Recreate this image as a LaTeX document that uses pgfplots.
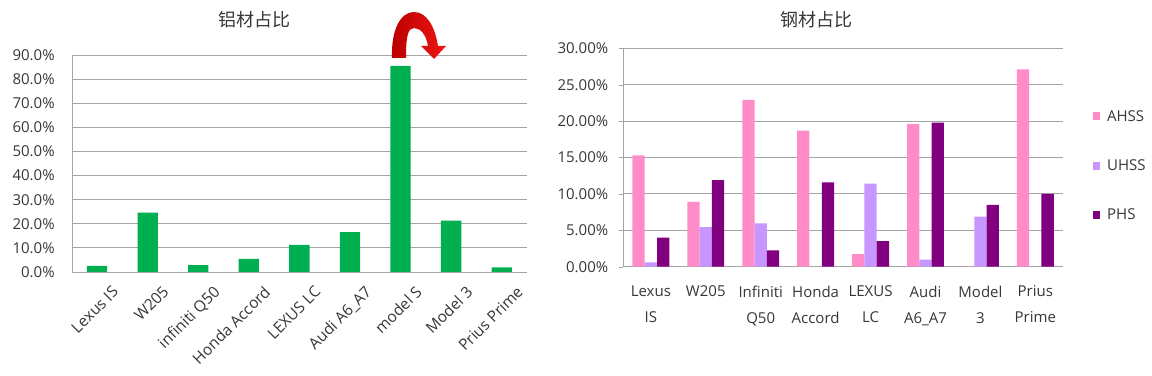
\documentclass[border=0pt]{standalone}
\usepackage{fontspec}
\setmainfont{Open Sans}
\newfontfamily\cjk{Noto Sans CJK SC}
\usepackage{pgfplots}
\pgfplotsset{compat=1.18}
\definecolor{barGreen}{RGB}{0,176,80}
\definecolor{ahss}{RGB}{255,140,200}
\definecolor{uhss}{RGB}{200,150,255}
\definecolor{phs}{RGB}{128,0,128}
\definecolor{gridc}{RGB}{165,165,165}
\definecolor{txt}{RGB}{55,55,55}
\begin{document}
\begin{tikzpicture}
\useasboundingbox (0,0) rectangle (1152bp,376bp);
\fill[white] (0,0) rectangle (1152bp,376bp);
% titles
\node[font=\cjk\fontsize{18bp}{20bp}\selectfont, text=txt] at (254bp,356.5bp) {铝材占比};
\node[font=\cjk\fontsize{18bp}{20bp}\selectfont, text=txt] at (816bp,356bp) {钢材占比};

\begin{axis}[
  at={(71.8bp,104bp)}, anchor=south west, scale only axis,
  width=455.2bp, height=217bp,
  xmin=-0.5, xmax=8.5, ymin=0, ymax=90,
  ybar, bar width=20.3bp,
  axis lines=left, axis line style={draw=gridc, -},
  ymajorgrids, grid style={gridc, line width=0.8bp},
  major tick length=0pt,
  xtick={0,...,8},
  xticklabels={Lexus IS, W205, infiniti Q50, Honda Accord, LEXUS LC, Audi A6\_A7, model S, Model 3, Prius Prime},
  ytick={0,10,...,90},
  yticklabel={\pgfmathprintnumber[fixed,fixed zerofill,precision=1]{\tick}\%},
  /pgf/number format/assume math mode=true,
  tick label style={font=\fontsize{15bp}{18bp}\selectfont, text=txt},
  yticklabel style={anchor=east, inner sep=0pt, xshift=-17bp},
  xticklabel style={rotate=45, anchor=north east, inner sep=0pt, xshift=1bp, yshift=-19bp,
    font=\fontsize{15.5bp}{18bp}\selectfont},
]
\addplot[fill=barGreen, draw=none] coordinates {
 (0,2.5) (1,24.6) (2,2.9) (3,5.4) (4,11.2) (5,16.5) (6,85.5) (7,21.3) (8,1.95)};
\end{axis}

% curved arrow over model S
\begin{scope}[x=1bp,y=1bp]
\shade[left color={rgb,255:red,185;green,0;blue,0}, right color={rgb,255:red,240;green,20;blue,20}]
 (392,318) .. controls (391,347) and (401,364) .. (414,364)
 .. controls (427,364) and (435,349) .. (438,330)
 -- (446,330) -- (434,317) -- (421,330) -- (428,330)
 .. controls (426,342) and (420,348) .. (414,348)
 .. controls (408,348) and (406,340) .. (406,318) -- cycle;
\end{scope}

\begin{axis}[
  at={(623.4bp,109.3bp)}, anchor=south west, scale only axis,
  width=439.4bp, height=218.4bp,
  xmin=-0.5, xmax=7.5, ymin=0, ymax=30,
  ybar=0pt, bar width=12.3bp,
  axis lines=left, axis line style={draw=gridc, -},
  ymajorgrids, grid style={gridc, line width=0.8bp},
  tick align=outside, major tick length=4bp,
  ytick style={draw=gridc}, xtick style={draw=none},
  xtick={0,...,7},
  xticklabels={{Lexus\\IS},{W205},{Infiniti\\Q50},{Honda\\Accord},{LEXUS\\LC},{Audi\\A6\_A7},{Model\\3},{Prius\\Prime}},
  ytick={0,5,...,30},
  yticklabel={\pgfmathprintnumber[fixed,fixed zerofill,precision=2]{\tick}\%},
  /pgf/number format/assume math mode=true,
  tick label style={font=\fontsize{15bp}{18bp}\selectfont, text=txt},
  yticklabel style={anchor=east, inner sep=0pt, xshift=-11bp},
  xticklabel style={align=center, anchor=north, inner sep=0pt, font=\fontsize{15bp}{26bp}\selectfont, yshift=-15bp},
  legend image code/.code={\fill[#1] (0bp,-4bp) rectangle (7.3bp,4bp);},
  legend style={at={(1.068,0.4625)}, anchor=west, draw=none, fill=none, inner sep=0pt,
    row sep=35bp, font=\fontsize{15bp}{18bp}\selectfont, text=txt,
    nodes={inner sep=1bp}, /tikz/every odd column/.style={column sep=6bp}},
  legend cell align=left,
]
\addplot[fill=ahss, draw=none] coordinates {
 (0,15.3) (1,8.9) (2,22.9) (3,18.7) (4,1.74) (5,19.6) (6,0) (7,27.1)};
\addplot[fill=uhss, draw=none] coordinates {
 (0,0.6) (1,5.45) (2,5.96) (3,0) (4,11.4) (5,0.96) (6,6.87) (7,0)};
\addplot[fill=phs, draw=none] coordinates {
 (0,4.0) (1,11.9) (2,2.25) (3,11.6) (4,3.5) (5,19.8) (6,8.5) (7,10.0)};
\legend{AHSS, UHSS, PHS}
\end{axis}
\end{tikzpicture}
\end{document}
